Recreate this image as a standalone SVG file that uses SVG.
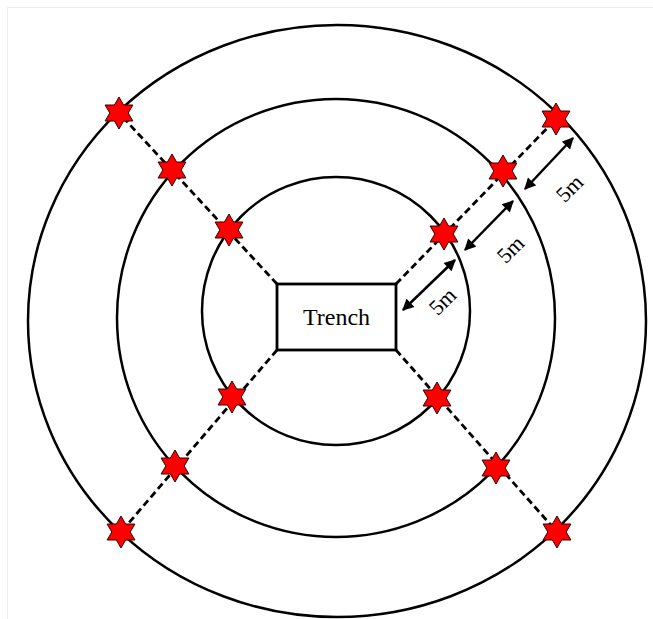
<svg xmlns="http://www.w3.org/2000/svg" width="653" height="619" viewBox="0 0 653 619">
<style>
.ring{fill:none;stroke:#000;stroke-width:2.5}
.dash{fill:none;stroke:#000;stroke-width:2.8;stroke-dasharray:7 4}
.star{fill:#f00;stroke:#300;stroke-width:1}
.dim{fill:none;stroke:#000;stroke-width:2.5;marker-start:url(#ah);marker-end:url(#ah)}
.lbl{font-family:"Liberation Serif","Times New Roman",serif;fill:#000;text-anchor:middle}
.big{font-size:24px}
.m5{font-size:22px}
</style>
<defs>
<marker id="ah" viewBox="0 0 10 10" refX="9" refY="5" markerWidth="5" markerHeight="4.6" orient="auto-start-reverse" markerUnits="strokeWidth">
<path d="M0,0 L10,5 L0,10 Z" fill="#000"/>
</marker>
<polygon id="hex" class="star" points="0,-16 4.6,-8 13.9,-8 9.2,0 13.9,8 4.6,8 0,16 -4.6,8 -13.9,8 -9.2,0 -13.9,-8 -4.6,-8"/>
</defs>
<rect x="0" y="0" width="653" height="619" fill="#fff"/>
<rect x="7.5" y="7.5" width="660" height="640" fill="none" stroke="#eeeeee" stroke-width="1"/>
<g id="rings">
<ellipse class="ring" cx="337" cy="321" rx="309" ry="296"/>
<circle class="ring" cx="336" cy="318" r="219"/>
<circle class="ring" cx="336" cy="311" r="134"/>
</g>
<g id="connectors">
<line class="dash" x1="277" y1="284" x2="119" y2="113"/>
<line class="dash" x1="396" y1="284" x2="556" y2="119"/>
<line class="dash" x1="277" y1="350" x2="121" y2="532"/>
<line class="dash" x1="396" y1="350" x2="557" y2="532"/>
<line class="dim" x1="403" y1="310" x2="455" y2="260"/>
<line class="dim" x1="465" y1="250" x2="513" y2="201"/>
<line class="dim" x1="525" y1="189" x2="573" y2="138"/>
</g>
<g id="trench">
<rect x="277" y="284" width="119" height="66" fill="#fff" stroke="#000" stroke-width="2.8"/>
<text class="lbl big" x="336.5" y="325">Trench</text>
</g>
<g id="stars">
<use href="#hex" x="119" y="113"/>
<use href="#hex" x="172" y="170"/>
<use href="#hex" x="229" y="230"/>
<use href="#hex" x="556" y="119"/>
<use href="#hex" x="503" y="171"/>
<use href="#hex" x="444" y="234"/>
<use href="#hex" x="232" y="397"/>
<use href="#hex" x="175" y="466"/>
<use href="#hex" x="121" y="532"/>
<use href="#hex" x="437" y="398"/>
<use href="#hex" x="496" y="468"/>
<use href="#hex" x="557" y="532"/>
</g>
<g id="labels">
<text class="lbl m5" transform="translate(442,301) rotate(-45)" y="8">5m</text>
<text class="lbl m5" transform="translate(510,249) rotate(-45)" y="8">5m</text>
<text class="lbl m5" transform="translate(569,188) rotate(-45)" y="8">5m</text>
</g>
</svg>
